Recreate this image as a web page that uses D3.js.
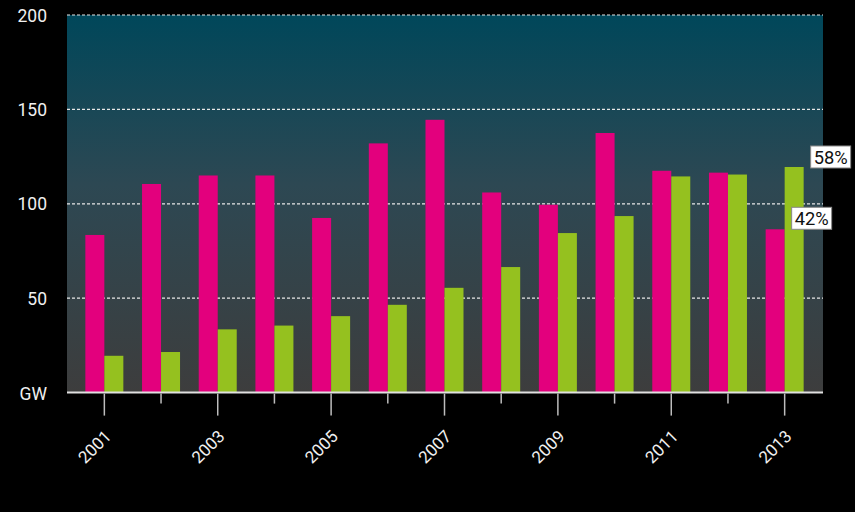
<!DOCTYPE html>
<html>
<head>
<meta charset="utf-8">
<script src="https://cdn.jsdelivr.net/npm/d3@7"></script>
<style>
  body { margin: 0; background: #000; }
  text { font-family: Roboto, "DejaVu Sans", sans-serif; }
</style>
</head>
<body>
<div id="chart"></div>
<script>
// data
var years = [2001, 2002, 2003, 2004, 2005, 2006, 2007, 2008, 2009, 2010, 2011, 2012, 2013];
var pinkValues = [83.5, 110.5, 115, 115, 92.5, 132, 144.5, 106, 99.5, 137.5, 117.5, 116.5, 86.5];
var greenValues = [19.5, 21.5, 33.5, 35.5, 40.5, 46.5, 55.5, 66.5, 84.5, 93.5, 114.5, 115.5, 119.5];
var yTicks = [50, 100, 150, 200];
var shareLabels = ["42%", "58%"];

var svgWidth = 855;
var svgHeight = 512;
var plotLeft = 67, plotRight = 823, plotTop = 15, plotBottom = 392.6;
var barW = 19;

var svg = d3.select("#chart").append("svg").attr("width", svgWidth).attr("height", svgHeight);
svg.append("rect").attr("width", svgWidth).attr("height", svgHeight).attr("fill", "#000");

var x = d3.scaleBand().domain(years).range([76, 813]).padding(0);
var y = d3.scaleLinear().domain([0, 200]).range([plotBottom, plotTop]);

// background gradient
var grad = svg.append("defs").append("linearGradient").attr("id", "bg")
  .attr("x1", 0).attr("y1", 0).attr("x2", 0).attr("y2", 1);
grad.append("stop").attr("offset", "0%").attr("stop-color", "#00475a");
grad.append("stop").attr("offset", "45%").attr("stop-color", "#2d4853");
grad.append("stop").attr("offset", "100%").attr("stop-color", "#3d3d3d");
svg.append("rect").attr("x", plotLeft).attr("y", plotTop)
  .attr("width", plotRight - plotLeft).attr("height", plotBottom - plotTop)
  .attr("fill", "url(#bg)");

// gridlines
svg.selectAll(".grid").data(yTicks).enter().append("line")
  .attr("x1", plotLeft).attr("x2", plotRight)
  .attr("y1", d => y(d)).attr("y2", d => y(d))
  .attr("stroke", "#e8e8e8").attr("stroke-width", 1.2).attr("stroke-dasharray", "3,2");

// y labels
svg.selectAll(".ylab").data(yTicks).enter().append("text")
  .attr("x", 47).attr("y", d => y(d) + 6.5)
  .attr("text-anchor", "end").attr("fill", "#f0f0f0").style("font-size", "17.5px")
  .text(d => d);
svg.append("text").attr("x", 47).attr("y", plotBottom + 7)
  .attr("text-anchor", "end").attr("fill", "#f0f0f0").style("font-size", "17.5px").text("GW");

// bars
var groups = svg.selectAll(".yr").data(years).enter().append("g");
groups.append("rect")
  .attr("x", d => x(d) + x.bandwidth() / 2 - barW)
  .attr("y", (d, i) => y(pinkValues[i]))
  .attr("width", barW)
  .attr("height", (d, i) => y(0) - y(pinkValues[i]))
  .attr("fill", "#e3007d");
groups.append("rect")
  .attr("x", d => x(d) + x.bandwidth() / 2)
  .attr("y", (d, i) => y(greenValues[i]))
  .attr("width", barW)
  .attr("height", (d, i) => y(0) - y(greenValues[i]))
  .attr("fill", "#95c11f");

// x axis line and ticks
svg.append("line").attr("x1", plotLeft).attr("x2", plotRight)
  .attr("y1", plotBottom).attr("y2", plotBottom)
  .attr("stroke", "#e0e0e0").attr("stroke-width", 2);
svg.selectAll(".tick").data(years).enter().append("line")
  .attr("x1", d => x(d) + x.bandwidth() / 2).attr("x2", d => x(d) + x.bandwidth() / 2)
  .attr("y1", plotBottom + 1)
  .attr("y2", d => plotBottom + (d % 2 === 1 ? 23 : 11))
  .attr("stroke", "#bdbdbd").attr("stroke-width", 1.5);

svg.selectAll(".xlab").data(years.filter(d => d % 2 === 1)).enter().append("text")
  .attr("transform", d => `translate(${x(d) + x.bandwidth() / 2 + 8}, ${plotBottom + 45}) rotate(-45)`)
  .attr("text-anchor", "end").attr("fill", "#f0f0f0").style("font-size", "17px")
  .text(d => d);

// share labels on the last year
var last = years.length - 1;
var lx = x(years[last]) + x.bandwidth() / 2;
var labelData = [
  { text: shareLabels[0], x: lx + 7, cy: y(pinkValues[last]) - 11 },
  { text: shareLabels[1], x: lx + barW + 7, cy: y(greenValues[last]) - 10 }
];
var lab = svg.selectAll(".share").data(labelData).enter().append("g");
lab.append("rect")
  .attr("x", d => d.x).attr("y", d => d.cy - 11)
  .attr("width", 40).attr("height", 22)
  .attr("fill", "#fff").attr("stroke", "#888").attr("stroke-width", 1);
lab.append("text")
  .attr("x", d => d.x + 20).attr("y", d => d.cy + 7)
  .attr("text-anchor", "middle").attr("fill", "#111").style("font-size", "19px")
  .attr("textLength", 34).attr("lengthAdjust", "spacingAndGlyphs")
  .text(d => d.text);
</script>
</body>
</html>
